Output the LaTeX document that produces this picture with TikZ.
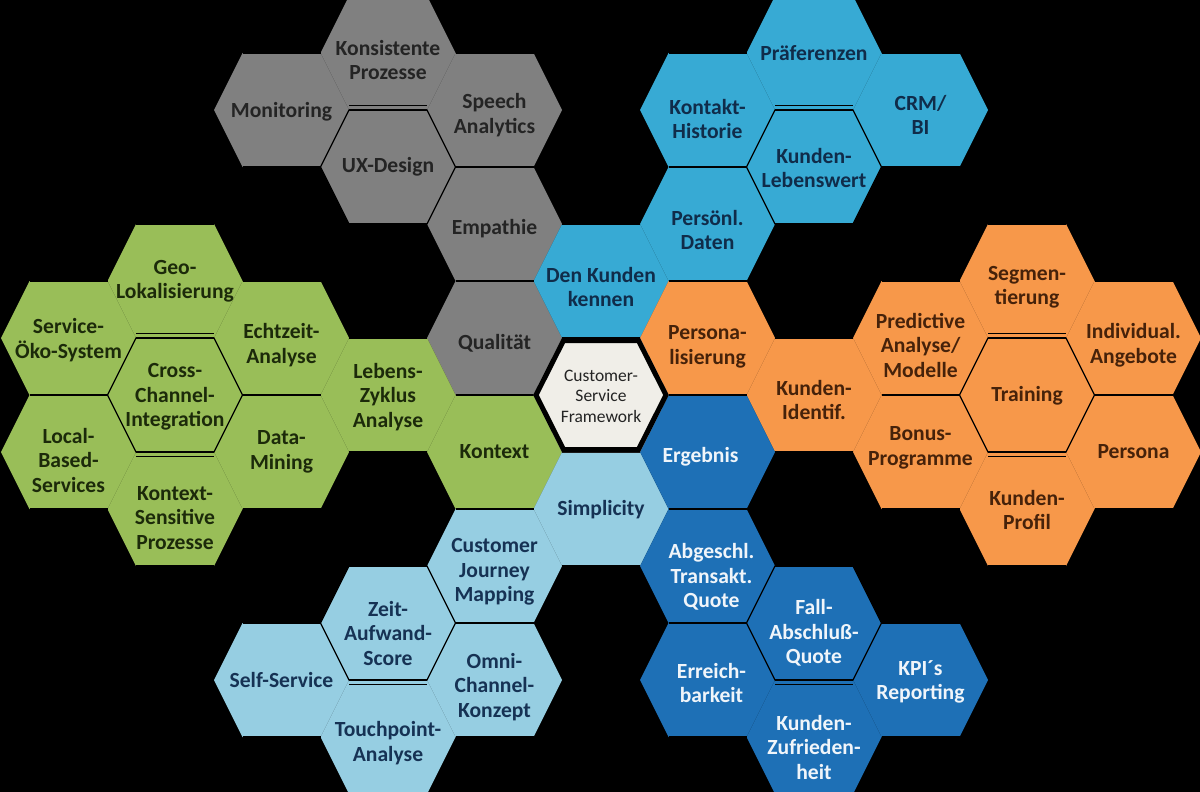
\documentclass[tikz,border=0pt]{standalone}
\usepackage{fontspec}
\setmainfont{Carlito}
\definecolor{cgray}{RGB}{128,128,128}
\definecolor{cgraytx}{RGB}{36,36,36}
\definecolor{cteal}{RGB}{55,170,212}
\definecolor{ctealtx}{RGB}{16,44,74}
\definecolor{corange}{RGB}{247,152,74}
\definecolor{corangetx}{RGB}{70,34,10}
\definecolor{cgreen}{RGB}{153,190,88}
\definecolor{cgreentx}{RGB}{28,42,10}
\definecolor{clight}{RGB}{150,206,226}
\definecolor{clighttx}{RGB}{22,50,84}
\definecolor{cdark}{RGB}{30,112,182}
\definecolor{cdarktx}{RGB}{240,245,250}
\definecolor{ccenter}{RGB}{240,238,232}
\newcommand\hexshape[1]{(#1) ++(-67.5,0) -- ++(28.5,-57) -- ++(78,0) -- ++(28.5,57) -- ++(-28.5,57) -- ++(-78,0) -- cycle}
\tikzset{
  hline/.style={black, line width=2.4pt},
  flower/.style={black, line width=1.3pt, line join=miter},
  txt/.style={align=center, inner sep=0pt, font=\fontsize{21.6}{24.5}\selectfont\bfseries},
  gtx/.style={txt, text=cgraytx},
  ttx/.style={txt, text=ctealtx},
  otx/.style={txt, text=corangetx},
  grx/.style={txt, text=cgreentx},
  ltx/.style={txt, text=clighttx},
  dtx/.style={txt, text=cdarktx},
  ctx/.style={align=center, inner sep=0pt, text=cgraytx, font=\fontsize{17.5}{20.5}\selectfont}
}
\begin{document}
\begin{tikzpicture}[x=1pt, y=-1pt]
\fill[black] (0,0) rectangle (1200,792);
\useasboundingbox (0,0) rectangle (1200,792);
% cell centres on the hexagonal grid
\foreach \n/\k/\m in {Kon/-2/-6, Mon/-3/-5, Spe/-1/-5, UX/-2/-4, Emp/-1/-3, Qua/-1/-1,
  Pra/2/-6, KH/1/-5, CRM/3/-5, KL/2/-4, PD/1/-3, DK/0/-2,
  Seg/4/-2, Pre/3/-1, Ind/5/-1, Per/1/-1, KI/2/0, Tra/4/0, Bon/3/1, Psa/5/1, KP/4/2,
  Geo/-4/-2, Ser/-5/-1, Ech/-3/-1, Cro/-4/0, Leb/-2/0, Loc/-5/1, Dat/-3/1, KS/-4/2, Kox/-1/1,
  Sim/0/2, CJM/-1/3, Zei/-2/4, Sel/-3/5, Omn/-1/5, Tou/-2/6,
  Erg/1/1, Abg/1/3, Fal/2/4, Err/1/5, KPI/3/5, KZ/2/6, Ctr/0/0}
  {\coordinate (\n) at ({601+106.5*\k},{395+57*\m});}
% fills
\foreach \n in {Kon,Mon,Spe,UX,Emp,Qua} {\fill[cgray] \hexshape{\n};}
\foreach \n in {Pra,KH,CRM,KL,PD,DK} {\fill[cteal] \hexshape{\n};}
\foreach \n in {Seg,Pre,Ind,Per,KI,Tra,Bon,Psa,KP} {\fill[corange] \hexshape{\n};}
\foreach \n in {Geo,Ser,Ech,Cro,Leb,Loc,Dat,KS,Kox} {\fill[cgreen] \hexshape{\n};}
\foreach \n in {Sim,CJM,Zei,Sel,Omn,Tou} {\fill[clight] \hexshape{\n};}
\foreach \n in {Erg,Abg,Fal,Err,KPI,KZ} {\fill[cdark] \hexshape{\n};}
% horizontal edges
\foreach \n in {Kon,Mon,Spe,UX,Emp,Qua,Pra,KH,CRM,KL,PD,DK,Seg,Pre,Ind,Per,KI,Tra,Bon,Psa,KP,
  Geo,Ser,Ech,Cro,Leb,Loc,Dat,KS,Kox,Sim,CJM,Zei,Sel,Omn,Tou,Erg,Abg,Fal,Err,KPI,KZ}
  {\draw[hline] (\n) ++(-39,-57) -- ++(78,0);
   \draw[hline] (\n) ++(-39,57) -- ++(78,0);}
% flower centres
\foreach \n in {UX,KL,Cro,Tra,Zei,Fal}
  {\draw[flower] \hexshape{\n};
   \draw[black, line width=1.6pt] (\n) ++(-39,-61.5) -- ++(78,0);
   \draw[black, line width=1.6pt] (\n) ++(-39,61.5) -- ++(78,0);}
% central hexagon
\fill[ccenter] \hexshape{Ctr};
\draw[black, line width=5pt, line join=miter] (Ctr) ++(-65,0) -- ++(27.5,-54.5) -- ++(75,0) -- ++(27.5,54.5) -- ++(-27.5,54.5) -- ++(-75,0) -- cycle;
% texts
\node[gtx] (tKon) at ([yshift=-7pt]Kon) {Konsistente\\Prozesse};
\node[gtx] (tMon) at ([yshift=-2pt]Mon) {Monitoring};
\node[gtx] (tSpe) at ([yshift=-5pt]Spe) {Speech\\Analytics};
\node[gtx] (tUX) at ([yshift=0pt]UX) {UX-Design};
\node[gtx] (tEmp) at ([yshift=-5pt]Emp) {Empathie};
\node[gtx] (tQua) at ([yshift=-5pt]Qua) {Qualität};
\node[ttx] (tPra) at ([yshift=0pt]Pra) {Präferenzen};
\node[ttx] (tKH) at ([yshift=-9pt]KH) {Kontakt-\\Historie};
\node[ttx] (tCRM) at ([yshift=-5pt]CRM) {CRM/\\BI};
\node[ttx] (tKL) at ([yshift=-1pt]KL) {Kunden-\\Lebenswert};
\node[ttx] (tPD) at ([yshift=-6pt]PD) {Persönl.\\Daten};
\node[ttx] (tDK) at ([yshift=-6pt]DK) {Den Kunden\\kennen};
\node[otx] (tSeg) at ([yshift=-6pt]Seg) {Segmen-\\tierung};
\node[otx] (tPre) at ([yshift=-7pt]Pre) {Predictive\\Analyse/\\Modelle};
\node[otx] (tInd) at ([yshift=-7pt]Ind) {Individual.\\Angebote};
\node[otx] (tPer) at ([yshift=-9pt]Per) {Persona-\\lisierung};
\node[otx] (tKI) at ([yshift=-5pt]KI) {Kunden-\\Identif.};
\node[otx] (tTra) at ([yshift=-1pt]Tra) {Training};
\node[otx] (tBon) at ([yshift=4pt]Bon) {Bonus-\\Programme};
\node[otx] (tPsa) at ([yshift=0pt]Psa) {Persona};
\node[otx] (tKP) at ([yshift=-1pt]KP) {Kunden-\\Profil};
\node[grx] (tGeo) at ([yshift=0pt]Geo) {Geo-\\Lokalisierung};
\node[grx] (tSer) at ([yshift=-2pt]Ser) {Service-\\Öko-System};
\node[grx] (tEch) at ([yshift=-7pt]Ech) {Echtzeit-\\Analyse};
\node[grx] (tCro) at ([yshift=-2pt]Cro) {Cross-\\Channel-\\Integration};
\node[grx] (tLeb) at ([yshift=-2pt]Leb) {Lebens-\\Zyklus\\Analyse};
\node[grx] (tLoc) at ([yshift=-8pt]Loc) {Local-\\Based-\\Services};
\node[grx] (tDat) at ([yshift=0pt]Dat) {Data-\\Mining};
\node[grx] (tKS) at ([yshift=-9pt]KS) {Kontext-\\Sensitive\\Prozesse};
\node[grx] (tKox) at ([yshift=0pt]Kox) {Kontext};
\node[ltx] (tSim) at ([yshift=-1pt]Sim) {Simplicity};
\node[ltx] (tCJM) at ([yshift=-6pt]CJM) {Customer\\Journey\\Mapping};
\node[ltx] (tZei) at ([yshift=-10pt]Zei) {Zeit-\\Aufwand-\\Score};
\node[ltx] (tSel) at ([yshift=0pt]Sel) {Self-Service};
\node[ltx] (tOmn) at ([yshift=-7pt]Omn) {Omni-\\Channel-\\Konzept};
\node[ltx] (tTou) at ([yshift=-6pt]Tou) {Touchpoint-\\Analyse};
\node[dtx] (tErg) at ([xshift=-7pt,yshift=-5pt]Erg) {Ergebnis};
\node[dtx] (tAbg) at ([xshift=4pt,yshift=-11pt]Abg) {Abgeschl.\\Transakt.\\Quote};
\node[dtx] (tFal) at ([yshift=-10pt]Fal) {Fall-\\Abschluß-\\Quote};
\node[dtx] (tErr) at ([xshift=4pt,yshift=-3pt]Err) {Erreich-\\barkeit};
\node[dtx] (tKPI) at ([yshift=-2pt]KPI) {KPI´s\\Reporting};
\node[dtx] (tKZ) at ([yshift=-10pt]KZ) {Kunden-\\Zufrieden-\\heit};
\node[ctx] (tCtr) at ([yshift=-1pt]Ctr) {Customer-\\Service\\Framework};
\end{tikzpicture}
\end{document}
